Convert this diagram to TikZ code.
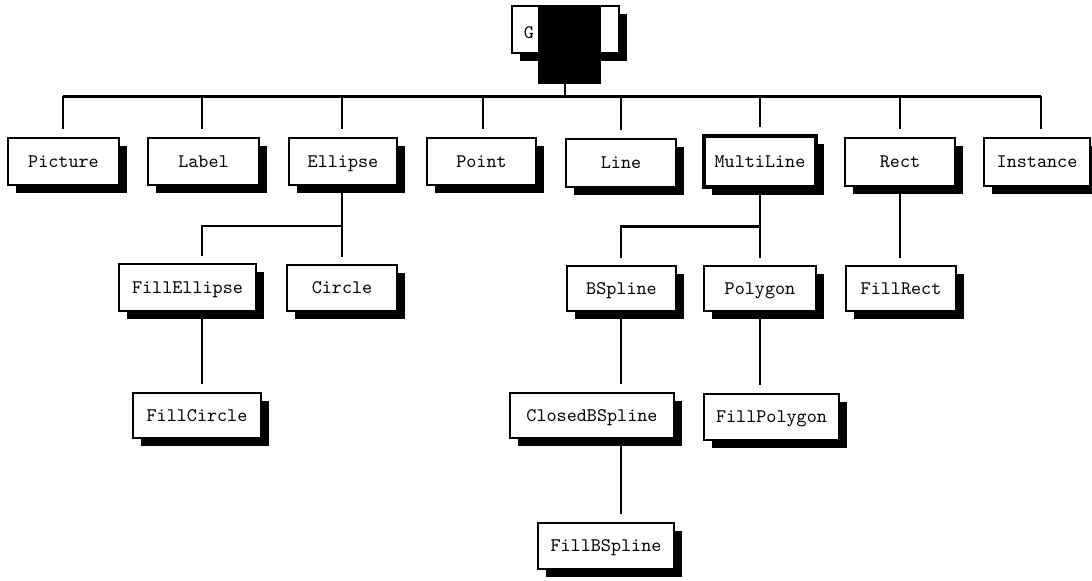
\documentclass[tikz,border=0pt]{standalone}
\usepackage{fontspec}
\usetikzlibrary{shadows}
\tikzset{
  clsfont/.style={font=\ttfamily\fontsize{9.6}{11}\selectfont},
  clsbox/.style={draw, line width=1pt, fill=white, inner sep=0pt, outer sep=0pt,
    clsfont, text height=5.9pt, text depth=0pt,
    drop shadow={shadow xshift=3.75pt, shadow yshift=-3.75pt, opacity=1, fill=black}},
  conn/.style={line width=1pt},
  busline/.style={line width=1.5pt},
}
\newcommand\clsnode[7][]{\node[clsbox,#1,minimum width={(#4-#3-2)*0.5pt}, minimum height={(#6-#5-2)*0.5pt}] (#2) at ({(#3+#4)/2},{(#5+#6)/2}) {#7};}
\begin{document}
\begin{tikzpicture}[x=0.5pt,y=-0.5pt]
\useasboundingbox[fill=white] (0,0) rectangle (1092,580);
% columns and levels
\coordinate (c1) at (63,0);
\coordinate (c2) at (202,0);
\coordinate (c3) at (342,0);
\coordinate (c4) at (483,0);
\coordinate (c5) at (621,0);
\coordinate (c6) at (760,0);
\coordinate (c7) at (900,0);
\coordinate (c8) at (1041,0);
\coordinate (bus) at (0,96);
\coordinate (br) at (0,226);
\coordinate (gdrop) at (565,96);
% root
\clsnode{graphic}{511}{620}{5}{54}{}
\node[clsfont, inner sep=0pt, text height=5.9pt, text depth=0pt] (gtext) at (529,33) {G};
\node[fill=black, draw=black, inner sep=0pt, outer sep=0pt, minimum width=31pt, minimum height=39pt] (blk) at (569,44) {};
% level 1
\clsnode{picture}{7}{120}{137}{186}{Picture}
\clsnode{label}{147}{260}{137}{186}{Label}
\clsnode{ellipse}{288}{398}{137}{186}{Ellipse}
\clsnode{point}{426}{537}{137}{186}{Point}
\clsnode{line}{565}{677}{138}{188}{Line}
\clsnode[line width=1.6pt]{multiline}{703}{817}{135}{188}{MultiLine}
\clsnode{rect}{844}{956}{137}{187}{Rect}
\clsnode{instance}{983}{1091}{137}{187}{Instance}
% level 2
\clsnode{fillellipse}{118}{257}{263}{312}{FillEllipse}
\clsnode{circle}{286}{398}{264}{312}{Circle}
\clsnode{bspline}{566}{677}{265}{312}{BSpline}
\clsnode{polygon}{703}{817}{265}{312}{Polygon}
\clsnode{fillrect}{845}{957}{265}{312}{FillRect}
% level 3
\clsnode{fillcircle}{132}{262}{392}{439}{FillCircle}
\clsnode{closedbspline}{509}{675}{392}{439}{ClosedBSpline}
\clsnode{fillpolygon}{703}{840}{393}{441}{FillPolygon}
% level 4
\clsnode{fillbspline}{537}{675}{522}{570}{FillBSpline}
% bus
\draw[conn] (blk.south -| gdrop) -- (gdrop);
\draw[busline] (c1 |- bus) -- (c8 |- bus);
\foreach \c/\n in {c1/picture,c2/label,c3/ellipse,c4/point,c5/line,c6/multiline,c7/rect,c8/instance}
  \draw[conn, shorten >=4.5pt] (\c |- bus) -- (\c |- \n.north);
% Ellipse children
\draw[conn, shorten >=4pt] (c3 |- ellipse.south) -- (c3 |- br) -- (c2 |- br) -- (c2 |- fillellipse.north);
\draw[conn, shorten >=4pt] (c3 |- br) -- (c3 |- circle.north);
% MultiLine children
\draw[conn, shorten >=4pt] (c6 |- multiline.south) -- (c6 |- br) -- (c5 |- br) -- (c5 |- bspline.north);
\draw[busline] (c6 |- br) -- (c5 |- br);
\draw[conn, shorten >=4pt] (c6 |- br) -- (c6 |- polygon.north);
% Rect child
\draw[conn, shorten >=4pt] (c7 |- rect.south) -- (c7 |- fillrect.north);
% level 2 -> 3
\draw[conn, shorten >=4.5pt] (c2 |- fillellipse.south) -- (c2 |- fillcircle.north);
\draw[conn, shorten >=4.5pt] (c5 |- bspline.south) -- (c5 |- closedbspline.north);
\draw[conn, shorten >=4.5pt] (c6 |- polygon.south) -- (c6 |- fillpolygon.north);
% level 3 -> 4
\draw[conn, shorten >=4.5pt] (c5 |- closedbspline.south) -- (c5 |- fillbspline.north);
\end{tikzpicture}
\end{document}
